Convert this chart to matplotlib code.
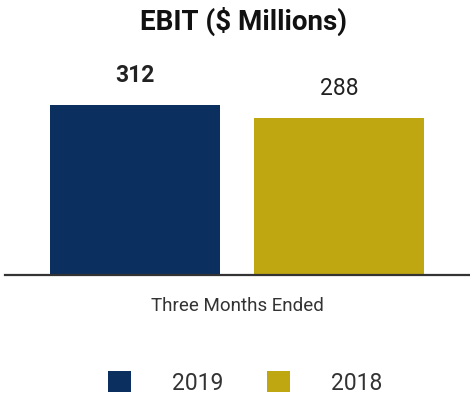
import matplotlib
matplotlib.use("Agg")
from matplotlib import pyplot as plt

YEARS = ["2019", "2018"]
EBIT = [312, 288]
COLORS = ["#0B2F5F", "#BFA712"]
LABEL_WEIGHTS = ["bold", "normal"]

plt.rcParams["font.family"] = ["Roboto", "DejaVu Sans"]


def plot():
    fig = plt.figure(figsize=(4.7, 3.95), dpi=100)
    ax = fig.add_axes([0.0106, 0.3038, 0.9894, 0.5443])

    xs = list(range(len(EBIT)))
    bars = ax.bar(xs, EBIT, width=0.833, color=COLORS, label=YEARS)

    for x, v, w in zip(xs, EBIT, LABEL_WEIGHTS):
        ax.annotate(str(v), (x, v), xytext=(0, 21), textcoords="offset points",
                    ha="center", va="center", fontsize=16.5, fontweight=w,
                    color="#222222")

    ax.set_xlim(-0.637, 1.642)
    ax.set_ylim(0, 394.5)
    for s in ["top", "left", "right"]:
        ax.spines[s].set_visible(False)
    ax.spines["bottom"].set_color("#333333")
    ax.spines["bottom"].set_linewidth(1.6)
    ax.set_xticks([])
    ax.set_yticks([])

    fig.text(243 / 470, 1 - 21 / 395, "EBIT ($ Millions)", ha="center", va="center",
             fontsize=20, fontweight="bold", color="#111111")
    fig.text(237 / 470, 1 - 306 / 395, "Three Months Ended", ha="center", va="center",
             fontsize=13.5, color="#333333")

    fig.legend(bars, YEARS, loc="center", bbox_to_anchor=(245 / 470, 1 - 383 / 395),
               ncol=2, frameon=False, fontsize=16.5, handlelength=1.0, handleheight=1.0,
               handletextpad=1.8, columnspacing=1.9, labelcolor="#333333")

    fig.savefig("out.png", dpi=100)


if __name__ == "__main__":
    plot()
